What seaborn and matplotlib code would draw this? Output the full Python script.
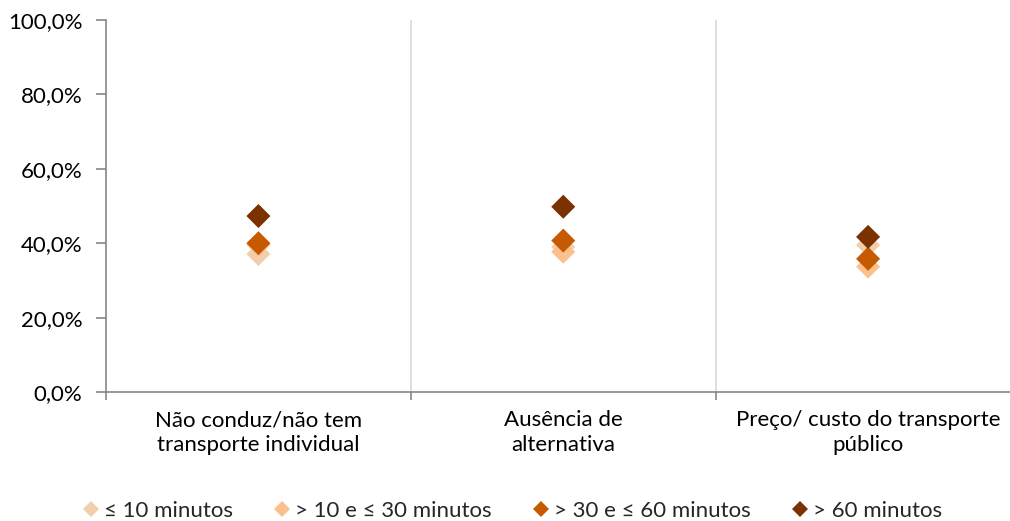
import numpy as np
import pandas as pd
import matplotlib
matplotlib.use("Agg")
import matplotlib.pyplot as plt
import seaborn as sns
from matplotlib.ticker import FuncFormatter, FixedLocator

# Motivos de utilização do transporte público por tempo de deslocação
categorias = ["Não conduz/não tem\ntransporte individual",
              "Ausência de\nalternativa",
              "Preço/ custo do transporte\npúblico"]
series = ["≤ 10 minutos", "> 10 e ≤ 30 minutos", "> 30 e ≤ 60 minutos", "> 60 minutos"]
ate_10 = [37.1, 39.0, 39.5]
de_10_a_30 = [39.6, 37.7, 33.7]
de_30_a_60 = [40.0, 40.7, 35.8]
mais_60 = [47.3, 49.8, 41.7]
cores = ["#F2CFAC", "#FCC08E", "#C55A00", "#7B3100"]

valores = [ate_10, de_10_a_30, de_30_a_60, mais_60]
df = pd.DataFrame({
    "categoria": np.repeat([categorias], len(series), axis=0).ravel(),
    "serie": np.repeat(series, len(categorias)),
    "valor": np.concatenate(valores),
})

sns.set_theme(style="white")
plt.rcParams["font.family"] = ["Lato", "DejaVu Sans"]

fig = plt.figure(figsize=(10.10, 5.21), dpi=100)
ax = fig.add_axes([106 / 1010, (521 - 392) / 521, 914.5 / 1010, 372 / 521])

sns.scatterplot(data=df, x="categoria", y="valor", hue="serie",
                hue_order=series, palette=cores, marker="D", s=150,
                linewidth=0, ax=ax, legend=True, zorder=3)

ax.set_xlim(-0.5, 2.5)
ax.set_ylim(0, 100)
ax.set_xlabel("")
ax.set_ylabel("")

grey = "#868686"
ax.set_yticks(np.arange(0, 101, 20))
ax.yaxis.set_major_formatter(FuncFormatter(lambda v, p: f"{v:.1f}%".replace(".", ",")))
ax.tick_params(axis="y", length=7, width=1.2, color=grey, direction="out",
               labelsize=16, labelcolor="black", pad=10, left=True)

ax.set_xticks(range(len(categorias)))
ax.set_xticklabels(categorias, fontsize=16, color="black", linespacing=1.3)
ax.tick_params(axis="x", which="major", length=0, pad=13)
ax.xaxis.set_minor_locator(FixedLocator([-0.5, 0.5, 1.5, 2.5]))
ax.tick_params(axis="x", which="minor", length=6, width=1.2, color=grey,
               direction="out", bottom=True)

for b in [0.5, 1.5]:
    ax.axvline(b, color="#D9D9D9", linewidth=1.2, zorder=1)

for side in ["top", "right"]:
    ax.spines[side].set_visible(False)
for side in ["left", "bottom"]:
    ax.spines[side].set_color(grey)
    ax.spines[side].set_linewidth(1.2)

handles, labels = ax.get_legend_handles_labels()
ax.get_legend().remove()
fig.legend(handles, labels, loc="center", bbox_to_anchor=(510 / 1010, (521 - 511) / 521),
           ncol=4, frameon=False, fontsize=16, markerscale=0.7,
           handletextpad=0.0, columnspacing=1.6, handlelength=1.2,
           borderpad=0)

fig.savefig("out.png", dpi=100)
